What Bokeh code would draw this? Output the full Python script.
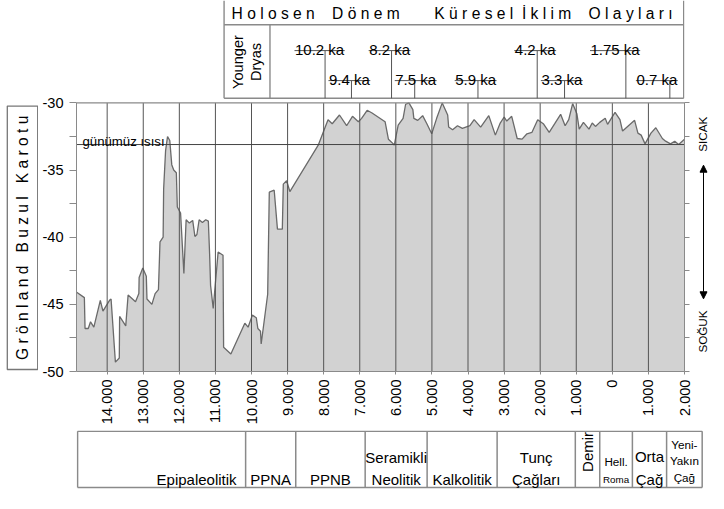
import math
from bokeh.plotting import figure
from bokeh.models import Range1d, FixedTicker, LinearAxis, Label, Arrow, NormalHead
from bokeh.layouts import column, row
from bokeh.embed import file_html
from bokeh.resources import INLINE
from bokeh.core.properties import value

FONT = "Liberation Sans"
NB = "\u00a0"

# ---------------- data ----------------
years = [-14845, -14632, -14613, -14524, -14461, -14369, -14190, -14117, -13935, -13892,
         -13772, -13664, -13655, -13485, -13420, -13214, -13122, -13114, -13013, -12915,
         -12897, -12761, -12671, -12579, -12536, -12449, -12435, -12381, -12327, -12265,
         -12210, -12156, -12083, -12056, -11966, -11874, -11812, -11722, -11630, -11568,
         -11513, -11451, -11360, -11269, -11196, -11161, -11134, -11061, -10925, -10789,
         -10773, -10572, -10185, -10095, -9976, -9867, -9824, -9751, -9732, -9552,
         -9507, -9371, -9281, -9146, -9119, -9027, -8937, -8151, -7879, -7763,
         -7562, -7364, -7201, -7039, -6949, -6795, -6659, -6298, -6206, -6070,
         -6043, -5935, -5799, -5729, -5637, -5528, -5501, -5393, -5257, -5140,
         -5005, -4869, -4714, -4563, -4536, -4427, -4291, -4156, -3947, -3830,
         -3649, -3424, -3242, -3107, -2998, -2925, -2789, -2637, -2501, -2366,
         -2230, -2068, -1913, -1750, -1596, -1433, -1308, -1208, -1100, -983,
         -918, -801, -647, -557, -468, -349, -197, -132, 75, 211,
         284, 617, 709, 799, 907, 1070, 1205, 1387, 1477, 1612,
         1729, 1838, 2000]
temps = [-44.1, -44.5, -46.8, -46.8, -46.3, -46.7, -44.7, -45.5, -44.7, -44.6,
         -49.3, -49.0, -45.9, -46.6, -44.3, -44.8, -44.2, -43.0, -42.3, -42.9,
         -44.6, -45.0, -44.2, -43.9, -40.35, -40.0, -36.4, -33.55, -32.5, -32.8,
         -34.6, -35.0, -35.2, -37.75, -38.2, -42.7, -38.7, -38.95, -38.75, -39.95,
         -39.8, -38.7, -38.9, -38.7, -38.8, -41.25, -43.6, -45.3, -41.1, -41.35,
         -48.2, -48.7, -46.4, -46.7, -45.8, -46.0, -46.8, -47.0, -47.95, -44.25,
         -36.65, -36.5, -39.4, -39.4, -36.05, -35.8, -36.6, -33.15, -31.25, -31.55,
         -30.9, -31.7, -31.0, -31.4, -31.15, -30.55, -30.75, -31.4, -32.7, -33.05,
         -33.15, -31.65, -31.15, -30.1, -30.0, -30.5, -31.15, -31.3, -30.95, -31.55,
         -32.3, -31.15, -30.0, -30.9, -31.8, -32.0, -31.7, -31.9, -31.7, -31.25,
         -31.8, -30.95, -32.4, -31.5, -31.05, -31.35, -31.0, -32.65, -32.7, -32.3,
         -32.2, -31.25, -31.55, -32.2, -31.55, -30.85, -31.7, -31.25, -30.05, -30.8,
         -31.95, -31.45, -31.95, -31.5, -31.75, -31.45, -31.15, -31.6, -30.7, -31.25,
         -32.1, -31.3, -32.25, -32.4, -33.05, -32.25, -31.85, -32.65, -32.85, -33.05,
         -32.85, -33.1, -32.7]

x_ticks = [-14000, -13000, -12000, -11000, -10000, -9000, -8000, -7000, -6000,
           -5000, -4000, -3000, -2000, -1000, 0, 1000, 2000]
x_tick_labels = ["14.000", "13.000", "12.000", "11.000", "10.000", "9.000", "8.000",
                 "7.000", "6.000", "5.000", "4.000", "3.000", "2.000", "1.000", "0",
                 "1.000", "2.000"]
y_ticks = [-50, -47.5, -45, -42.5, -40, -37.5, -35, -32.5, -30]
y_tick_labels = ["-50", "", "-45", "", "-40", "", "-35", "", "-30"]

present_temp = -33.1
present_label = "günümüz ısısı"
y_title = "Grönland Buzul Karotu"
warm_label = "SICAK"
cold_label = "SOĞUK"

header_title_words = ["Holosen", "Dönem", "Küresel", "İklim", "Olayları"]
younger_dryas = [-10760, -9488]
event_labels = ["10.2 ka", "9.4 ka", "8.2 ka", "7.5 ka", "5.9 ka", "4.2 ka", "3.3 ka", "1.75 ka", "0.7 ka"]
event_x = [-7961, -7230, -6119, -5477, -3724, -2082, -1324, 375, 1594]
event_label_x = [-8113, -7287, -6173, -5450, -3789, -2137, -1400, 77, 1233]
event_row = [0, 1, 0, 1, 1, 0, 1, 0, 1]

period_names = ["Epipaleolitik", "PPNA", "PPNB", "Seramikli Neolitik", "Kalkolitik",
                "Tunç Çağları", "Demir", "Hell. Roma", "Orta Çağ", "Yeni- Yakın Çağ"]
period_start = [-14820, -10163, -8774, -6850, -5133, -3193, -1026, -349, 556, 1504]
period_end = 2490

# ---------------- layout constants (canvas pixels) ----------------
W = 708
X0, X1 = -14850, 2000
Y0, Y1 = -50, -30
ML, MR = 38, 9                  # main figure borders
FRAME_W = 608
MAIN_W = ML + FRAME_W + MR      # 655
LW = 38
RW = W - LW - MAIN_W            # 15
ppx = FRAME_W / (X1 - X0)
MAIN_H = 430
MB = 59
FRAME_H = MAIN_H - MB           # 371
TOP30 = 102.4                   # canvas y of -30
ppy = (FRAME_H - TOP30) / (Y1 - Y0)
GRAY = "#8a8a8a"
DARK = "#555555"


def hy(cy):
    """canvas y (from top) -> data y of the main figure"""
    return Y1 + (TOP30 - cy) / ppy


# ---------- main plot (header lives in its upper part) ----------
p = figure(width=MAIN_W, height=MAIN_H, x_range=Range1d(X0, X1),
           y_range=Range1d(Y0, Y1 + TOP30 / ppy),
           output_backend="svg", toolbar_location=None,
           min_border_left=ML, min_border_right=MR,
           min_border_top=0, min_border_bottom=MB)
p.outline_line_color = None
p.xgrid.visible = False
p.ygrid.visible = False

p.varea(x=years, y1=Y0, y2=temps, fill_color="#d2d2d2")
p.line(years, temps, line_color="#6a6a6a", line_width=1.3)
p.segment(x0=x_ticks, y0=[Y0] * len(x_ticks), x1=x_ticks, y1=[Y1] * len(x_ticks),
          line_color=DARK, line_width=1)
p.segment(x0=[X0], y0=[Y1], x1=[X1], y1=[Y1], line_color=GRAY, line_width=1.2)
p.segment(x0=[X0], y0=[present_temp], x1=[X1], y1=[present_temp],
          line_color="#444444", line_width=1)

p.xaxis.ticker = FixedTicker(ticks=x_ticks)
p.xaxis.major_label_overrides = {t: l for t, l in zip(x_ticks, x_tick_labels)}
p.xaxis.major_label_orientation = math.pi / 2
p.xaxis.major_label_text_font = FONT
p.xaxis.major_label_text_font_size = "14.6px"
p.xaxis.major_label_text_color = "black"
p.xaxis.major_label_standoff = 5
p.xaxis.major_tick_out = 3
p.xaxis.major_tick_in = 0
p.xaxis.minor_tick_line_color = None
p.xaxis.axis_line_color = GRAY
p.xaxis.major_tick_line_color = GRAY

p.yaxis.ticker = FixedTicker(ticks=y_ticks)
p.yaxis.bounds = (Y0, Y1)
p.yaxis.major_label_overrides = {t: l for t, l in zip(y_ticks, y_tick_labels)}
p.yaxis.major_label_text_font = FONT
p.yaxis.major_label_text_font_size = "14.6px"
p.yaxis.major_label_text_color = "black"
p.yaxis.major_label_standoff = 6
p.yaxis.major_tick_out = 7
p.yaxis.major_tick_in = 0
p.yaxis.minor_tick_line_color = None
p.yaxis.axis_line_color = GRAY
p.yaxis.major_tick_line_color = GRAY

ra = LinearAxis(ticker=FixedTicker(ticks=y_ticks), bounds=(Y0, Y1),
                major_label_overrides={t: "" for t in y_ticks},
                major_label_text_font_size="0px", major_label_standoff=0,
                major_tick_out=5, major_tick_in=0, minor_tick_line_color=None,
                axis_line_color=GRAY, major_tick_line_color=GRAY)
p.add_layout(ra, "right")

p.add_layout(Label(x=X0, y=present_temp, x_offset=6, y_offset=3, text=present_label,
                   text_font=FONT, text_font_size="13.2px", text_color="black",
                   text_baseline="alphabetic", text_align="left"))

# header table (Holosen events)
box_r = X1 - 0.8 / ppx
yd0, yd1 = younger_dryas
H_ROW, H_BOT = 24.2, 97.8
p.segment(x0=[yd0, box_r, yd0, yd0, yd1],
          y0=[hy(0), hy(0), hy(H_ROW), hy(H_BOT), hy(H_ROW)],
          x1=[yd0, box_r, box_r, box_r, yd1],
          y1=[hy(H_BOT), hy(H_BOT), hy(H_ROW), hy(H_BOT), hy(H_BOT)],
          line_color=GRAY, line_width=1.4)
gaps = [4, 8, 2, 4]
title = ""
for i, wd in enumerate(header_title_words):
    title += NB.join(list(wd))
    if i < len(gaps):
        title += NB * gaps[i]
p.text(x=[yd0], y=[hy(12.6)], text=[title], x_offset=7.5, text_align="left",
       text_baseline="middle", text_font=value(FONT), text_font_size="15.6px",
       text_color="black")
p.text(x=[(yd0 + yd1) / 2], y=[hy(61.5)], text=["Younger\nDryas"], angle=math.pi / 2,
       text_align="center", text_baseline="middle", text_font=value(FONT),
       text_font_size="14.6px", text_color="black", text_line_height=1.15)

adv = {".": 0.278, " ": 0.278, "k": 0.5, "a": 0.556}
fs_ev = 15.0
ux0, ux1, uy, vx, tyy = [], [], [], [], []
for lab, ex, lx, r in zip(event_labels, event_x, event_label_x, event_row):
    wpx = sum(adv.get(c, 0.556) for c in lab) * fs_ev + 1
    yline = 50.1 if r == 0 else 80.1
    ux0.append(lx - wpx / 2 / ppx)
    ux1.append(lx + wpx / 2 / ppx)
    uy.append(hy(yline))
    vx.append(ex)
    tyy.append(hy(yline - 1.4))
p.segment(x0=ux0, y0=uy, x1=ux1, y1=uy, line_color=DARK, line_width=1)
p.segment(x0=vx, y0=uy, x1=vx, y1=[hy(H_BOT)] * len(vx), line_color=DARK, line_width=1)
p.text(x=event_label_x, y=tyy, text=event_labels, text_align="center",
       text_baseline="alphabetic", text_font=value(FONT),
       text_font_size=f"{fs_ev}px", text_color="black")

# ---------- side strips (their frames are aligned with the main frame) ----------
def strip(width):
    f = figure(width=width, height=MAIN_H, x_range=Range1d(0, width),
               y_range=Range1d(FRAME_H, 0), output_backend="svg",
               toolbar_location=None, min_border=0,
               x_axis_type=None, y_axis_type=None, outline_line_color=None)
    f.xgrid.visible = False
    f.ygrid.visible = False
    return f


lf = strip(LW)
lf.quad(left=[6.8], right=[37.2], top=[105.6], bottom=[369.0], fill_color=None,
        line_color="#777777", line_width=1.3)
ytxt = (NB * 3).join(NB.join(list(w)) for w in y_title.split(" "))
lf.text(x=[22.0], y=[237.3], text=[ytxt], angle=math.pi / 2, text_align="center",
        text_baseline="middle", text_font=value(FONT), text_font_size="15.6px",
        text_color="black")

rf = strip(RW)
rf.text(x=[9.0, 9.0], y=[133.7, 331.0], text=[warm_label, cold_label],
        angle=math.pi / 2, text_align="center", text_baseline="middle",
        text_font=value(FONT), text_font_size="11.7px", text_color="black")
rf.add_layout(Arrow(x_start=10.0, y_start=298.3, x_end=10.0, y_end=164.7,
                    start=NormalHead(size=7, fill_color="black", line_color="black"),
                    end=NormalHead(size=7, fill_color="black", line_color="black"),
                    line_color="black", line_width=1))

# ---------- bottom period table ----------
BL, BR = LW + ML, 4
bot_w = W - BL - BR
bot = figure(width=W, height=493 - MAIN_H, x_range=Range1d(X0, X0 + bot_w / ppx),
             y_range=Range1d(493, MAIN_H),
             output_backend="svg", toolbar_location=None,
             min_border_left=BL, min_border_right=BR,
             min_border_top=0, min_border_bottom=0,
             x_axis_type=None, y_axis_type=None, outline_line_color=None)
bot.xgrid.visible = False
bot.ygrid.visible = False
edges = period_start + [period_end]
TOP, BOT = 430.8, 487.0
bot.segment(x0=[edges[0], edges[0]], y0=[TOP, BOT], x1=[edges[-1], edges[-1]],
            y1=[TOP, BOT], line_color=GRAY, line_width=1.5)
bot.segment(x0=edges, y0=[TOP] * len(edges), x1=edges, y1=[BOT] * len(edges),
            line_color=GRAY, line_width=1.5)

centers = [(a + b) / 2 for a, b in zip(edges[:-1], edges[1:])]
F1, F2, F3 = 15.0, 11.7, 9.8
cell_lines = [
    [(period_names[0], 478.5, F1)],
    [(period_names[1], 478.5, F1)],
    [(period_names[2], 478.5, F1)],
    [("Seramikli", 457.2, F1), ("Neolitik", 478.5, F1)],
    [(period_names[4], 478.5, F1)],
    [("Tunç", 457.2, F1), ("Çağları", 478.5, F1)],
    [],
    [("Hell.", 461.0, F2), ("Roma", 478.5, F3)],
    [("Orta", 456.2, F1), ("Çağ", 478.5, F1)],
    [("Yeni-", 443.6, F2), ("Yakın", 460.0, F2), ("Çağ", 476.5, F2)],
]
for i, lines in enumerate(cell_lines):
    for txt, yb, fs in lines:
        if i == 0:
            bot.text(x=[edges[1]], y=[yb], text=[txt], x_offset=-9, text_align="right",
                     text_baseline="alphabetic", text_font=value(FONT),
                     text_font_size=f"{fs}px", text_color="black")
        else:
            bot.text(x=[centers[i]], y=[yb], text=[txt], text_align="center",
                     text_baseline="alphabetic", text_font=value(FONT),
                     text_font_size=f"{fs}px", text_color="black")
bot.text(x=[centers[6]], y=[451.4], text=[period_names[6]], angle=math.pi / 2,
         text_align="center", text_baseline="middle", text_font=value(FONT),
         text_font_size=f"{F1}px", text_color="black")

layout = column(row(lf, p, rf, spacing=0), bot, spacing=0)
open("out.html", "w").write(file_html(layout, INLINE))
